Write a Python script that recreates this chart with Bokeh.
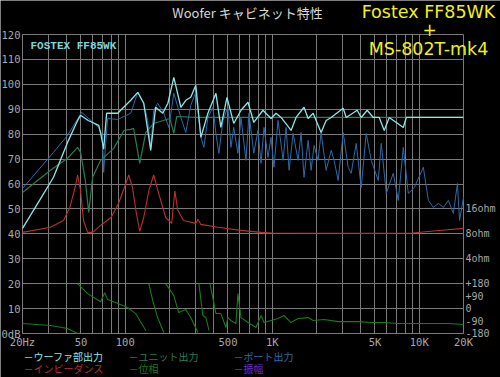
import math
from bokeh.plotting import figure
from bokeh.models import Range1d, LogScale, LinearAxis, FixedTicker, Label
from bokeh.embed import file_html
from bokeh.resources import INLINE

# ---------------- data ----------------
woofer_f = [20, 26.5, 32.5, 40.5, 47.4, 49.7, 56, 66, 68, 71.3, 74.7, 88.9, 93, 109,
            121.6, 133.6, 149, 161, 180, 195, 214, 239, 258, 279, 302, 327, 365, 414,
            447, 492, 547, 613, 684, 749, 865, 981, 1061, 1148, 1343, 1452, 1645, 1754,
            1896, 2150, 2326, 2516, 3038, 3184, 3784, 4029, 4427, 4864, 5344, 5778, 6252,
            7788, 8162, 10832, 20000]
woofer_db = [42.2, 54.0, 62.7, 76.7, 85.5, 87.6, 85.5, 83.5, 80.5, 74.0, 88.4, 88.4, 89.6, 93.6,
             96.8, 92.4, 73.5, 90.8, 88.4, 92.4, 102.8, 90.8, 93.6, 94.8, 99.6, 78.7, 88.4, 96.4,
             82.7, 94.8, 84.3, 89.6, 92.8, 84.7, 89.6, 86.3, 88.4, 86.7, 81.5, 86.7, 90.8, 86.3,
             88.4, 80.7, 85.5, 86.7, 90.4, 86.7, 89.6, 86.7, 89.6, 86.7, 86.7, 81.5, 86.7,
             82.7, 86.7, 86.7, 86.7]

unit_f = [20, 31, 40.5, 47.4, 49.7, 53.5, 56.4, 60, 68, 83.5, 98, 109, 114, 125.5, 138,
          156, 201, 214, 224, 300, 1000, 20000]
unit_db = [56.6, 65.5, 70.3, 74.7, 72.7, 61.4, 48.6, 62.7, 69.5, 74.3, 81.5, 81.9, 82.3, 68.3, 80.7,
           84.3, 86.3, 80.3, 87.1, 86.7, 86.7, 86.7]

port_f = [20, 32.5, 40.5, 50.5, 66, 70, 71.3, 73.6, 75.9, 88.9, 109, 121.6, 133.6, 142, 149,
          156.3, 166.3, 183, 198, 214, 238.8, 258, 279, 302, 327, 342.8, 365, 394.7, 413.6,
          433.6, 461.8, 499.4, 523.5, 546.9, 584, 612.6, 662.6, 694.6, 748.8, 799.7, 838.6,
          879, 935.7, 981, 1027, 1095, 1185, 1242, 1302, 1386, 1499, 1571, 1645, 1754, 1838,
          1926, 2050, 2150, 2326, 2516, 2636, 2808, 3038, 3285, 3444, 3725, 4029, 4358, 4712,
          5261, 5514, 5964, 6658, 7200, 7788, 8424, 9258, 10664, 11534, 12474, 13490, 14592,
          15780, 17070, 18180, 18800, 20000]
port_db = [58.2, 72.7, 79.5, 88.8, 82.7, 78.7, 64.7, 76.3, 86.3, 85.9, 88.4, 96.8, 92.4, 85.5, 74.7,
           89.6, 92.4, 88.4, 82.7, 96.4, 86.7, 80.7, 91.6, 96.8, 78.7, 74.7, 86.7, 90.8, 80.3,
           72.3, 85.5, 90.8, 74.7, 82.7, 72.3, 86.7, 69.5, 88.4, 72.3, 81.5, 68.3,
           82.7, 70.7, 78.7, 66.7, 85.5, 69.5, 82.7, 65.5, 80.3, 69.5, 80.7, 62.7, 77.5, 65.5,
           75.5, 69.5, 80.7, 65.5, 73.5, 69.5, 61.4, 80.7, 66.7, 64.3, 76.3, 58.6, 80.3, 69.5,
           61.4, 76.3, 56.2, 64.3, 53.4, 74.7, 56.2, 58.6, 66.7, 53.4, 50.6, 52.2, 50.6,
           53.4, 48.2, 60.2, 45.4, 54.6]

imp_f = [20, 31, 38, 42, 46, 47.4, 49.7, 52, 55.5, 60, 68, 80, 90, 101, 105.6, 112, 118,
         125.5, 133.6, 144.6, 156, 169, 188.5, 207, 217.5, 227.5, 249, 302, 312, 327, 427,
         613, 839, 1000, 5000, 9000, 13000, 20000]
imp_ohm = [8.34, 9.6, 11.6, 16.7, 30.9, 41.1, 26.4, 11.6, 8.34, 8.34, 10.1, 12.6, 18.6, 32.5, 41.1,
           29.1, 15.5, 8.6, 12.6, 26.4, 41.1, 24.5, 12.6, 10.7, 26.4, 15.5, 11.6, 10.7, 12.0, 10.4, 9.6,
           8.8, 8.34, 8.2, 8.1, 8.2, 8.7, 9.3]

phase_segments_f = [
    [20, 31, 40.5, 47.4],
    [47.4, 55.5, 68, 72.4, 75.9, 89, 104, 117.8, 138],
    [144.6, 153.8, 166, 183],
    [188.5, 214, 231, 258, 279, 312],
    [317, 337, 354, 371],
    [377, 414, 447, 484, 499, 523, 566, 584, 613, 684, 775, 839, 879, 981, 1095, 1203,
     1343, 1499, 1754, 1896, 2253, 2808, 3844, 4712, 5778, 7200, 9258, 12086, 15780, 20000],
]
phase_segments_deg = [
    [-108, -122, -144, -180],
    [180, 108, 50, 115, 65, 36, 7, -36, -158],
    [180, 58, -65, -173],
    [180, 94, -29, -7, -65, -173],
    [180, -50, -65, -158],
    [180, -36, -36, -137, -65, -86, -108, 108, -65, -101, -137, -50, -101, -86, -72, -50,
     -101, -72, -65, -86, -79, -94, -94, -101, -101, -108, -108, -108, -108, -115],
]

db_ticks = list(range(0, 121, 10))
freq_label_pos = [20, 50, 100, 500, 1000, 5000, 10000, 20000]
freq_labels = ["20Hz", "50", "100", "500", "1K", "5K", "10K", "20K"]
grid_freqs = [20, 30, 40, 50, 60, 70, 80, 90, 100, 200, 300, 400, 500, 600, 700, 800, 900,
              1000, 2000, 3000, 4000, 5000, 6000, 7000, 8000, 9000, 10000, 20000]
right_tick_pos = [50, 40, 30, 20, 15, 10, 5, 0]
right_tick_labels = ["16ohm", "8ohm", "4ohm", "+180", "+90", "0", "-90", "-180"]

legend_texts = ["－ウーファ部出力", "－ユニット出力", "－ポート出力",
                "－インピーダンス", "－位相", "－振幅"]

# ---------------- layout constants ----------------
W, H = 500, 377
PX_L, PX_R, PX_T, PX_B = 22, 463, 34, 333   # plot-area pixel box
F0, F1, D0, D1 = 20.0, 20000.0, 0.0, 120.0

dec_per_px = math.log10(F1 / F0) / (PX_R - PX_L)
x_start = F0 / 10 ** (PX_L * dec_per_px)
x_end = F1 * 10 ** ((W - PX_R) * dec_per_px)
db_per_px = (D1 - D0) / (PX_B - PX_T)
y_start = D0 - (H - PX_B) * db_per_px
y_end = D1 + PX_T * db_per_px

# impedance: 8 ohm at 40 dB, 10 dB per doubling ; phase: -180 at 0 dB, 18 deg per dB
imp_start = 8 * 2 ** ((y_start - 40) / 10)
imp_end = 8 * 2 ** ((y_end - 40) / 10)
ph_start = -180 + 18 * y_start
ph_end = -180 + 18 * y_end

# ---------------- styles ----------------
C_WOOF = "#8ee6e6"
C_UNIT = "#2a7d55"
C_PORT = "#2f6aa6"
C_IMP = "#b83030"
C_PH = "#1c7a1c"
C_AMP = "#6a2cd0"
GRID = "#7a7a7a"
TXT = "#a8a8a8"
MONO = "DejaVu Sans Mono"

p = figure(width=W, height=H, x_axis_type="log",
           x_range=Range1d(x_start, x_end), y_range=Range1d(y_start, y_end),
           output_backend="svg", toolbar_location=None, min_border=0)
p.background_fill_color = "black"
p.border_fill_color = "black"
p.outline_line_color = None

p.extra_y_ranges = {"imp": Range1d(imp_start, imp_end), "ph": Range1d(ph_start, ph_end)}
p.extra_y_scales = {"imp": LogScale()}

xg = p.xgrid[0]
xg.ticker = FixedTicker(ticks=grid_freqs)
xg.bounds = (F0, F1)
xg.cross_bounds = (D0, D1)
xg.grid_line_color = GRID
yg = p.ygrid[0]
yg.ticker = FixedTicker(ticks=db_ticks)
yg.bounds = (D0, D1)
yg.cross_bounds = (F0, F1)
yg.grid_line_color = GRID


def style_axis(ax, size):
    ax.axis_line_color = None
    ax.major_tick_line_color = None
    ax.minor_tick_line_color = None
    ax.major_tick_in = 0
    ax.major_tick_out = 0
    ax.minor_tick_in = 0
    ax.minor_tick_out = 0
    ax.major_label_standoff = 2
    ax.major_label_text_color = TXT
    ax.major_label_text_font = MONO
    ax.major_label_text_font_size = size


# left axis
ya = p.yaxis[0]
ya.fixed_location = F0
ya.bounds = (D0, D1)
ya.ticker = FixedTicker(ticks=db_ticks)
ya.major_label_overrides = {0: "0dB"}
style_axis(ya, "10.5px")

# bottom axis
xa = p.xaxis[0]
xa.fixed_location = D0
xa.bounds = (F0, F1)
xa.ticker = FixedTicker(ticks=freq_label_pos, minor_ticks=grid_freqs)
xa.major_label_overrides = {k: v for k, v in zip(freq_label_pos, freq_labels)}
style_axis(xa, "10.5px")
xa.major_tick_line_color = GRID
xa.minor_tick_line_color = GRID
xa.major_tick_in = 3
xa.minor_tick_in = 3
xa.major_label_standoff = 2

# right axis (impedance / phase labels placed on the dB scale)
ra = LinearAxis(ticker=FixedTicker(ticks=right_tick_pos),
                major_label_overrides={k: v for k, v in zip(right_tick_pos, right_tick_labels)})
ra.fixed_location = F1
ra.bounds = (D0, D1)
style_axis(ra, "10px")
p.add_layout(ra, "right")

# ---------------- curves ----------------
p.line(port_f, port_db, line_color=C_PORT, line_width=1.0)
p.line(unit_f, unit_db, line_color=C_UNIT, line_width=1.2)
p.line(imp_f, imp_ohm, line_color=C_IMP, line_width=1.1, y_range_name="imp")
p.multi_line(phase_segments_f, phase_segments_deg, line_color=C_PH, line_width=1.1, y_range_name="ph")
p.line(woofer_f, woofer_db, line_color=C_WOOF, line_width=1.3)

# ---------------- texts ----------------
def lab(x, y_top, t, color, size, font, align="left", bold=False):
    p.add_layout(Label(x=x, y=H - y_top, x_units="screen", y_units="screen", text=t,
                       text_color=color, text_font_size=size, text_font=font,
                       text_align=align, text_baseline="middle",
                       text_font_style="bold" if bold else "normal"))

lab(247, 12, "Woofer キャビネット特性", "#d8d8d8", "13px", "Noto Sans CJK JP", "center")
lab(428, 11, "Fostex FF85WK", "#f0f020", "17.5px", "DejaVu Sans", "center")
lab(429, 29, "+", "#f0f020", "17px", "DejaVu Sans", "center")
lab(428, 48, "MS-802T-mk4", "#f0f020", "17.5px", "DejaVu Sans", "center")
lab(30, 45, "FOSTEX FF85WK", "#7fd6d6", "11px", "Liberation Mono", "left", bold=True)

leg_colors = [C_WOOF, C_UNIT, C_PORT, C_IMP, C_PH, C_AMP]
leg_x = [23, 128, 233]
leg_y = [356, 368]
for i, (t, c) in enumerate(zip(legend_texts, leg_colors)):
    lab(leg_x[i % 3], leg_y[i // 3], t, c, "10px", "Noto Sans CJK JP")

open("out.html", "w").write(file_html(p, INLINE))
